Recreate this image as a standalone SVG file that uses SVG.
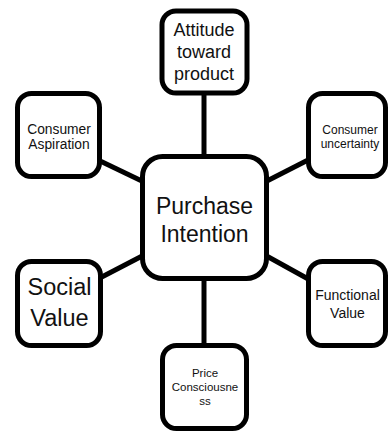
<svg xmlns="http://www.w3.org/2000/svg" width="388" height="432" viewBox="0 0 388 432">
<style>
.box{fill:#fff;stroke:#000;stroke-width:5}
.ln{stroke:#000;stroke-width:5;fill:none}
text{font-family:"Liberation Sans",Arial,sans-serif;fill:#111;text-anchor:middle}
</style>
<rect width="388" height="432" fill="#fff"/>
<g id="connectors">
<line class="ln" x1="204" y1="90" x2="204" y2="160"/>
<line class="ln" x1="204" y1="275" x2="204" y2="348"/>
<line class="ln" x1="96" y1="159" x2="146" y2="183"/>
<line class="ln" x1="310" y1="159" x2="263" y2="183"/>
<line class="ln" x1="146" y1="254" x2="96" y2="280"/>
<line class="ln" x1="263" y1="254" x2="310" y2="280"/>
</g>
<g id="attitude">
<rect class="box" x="162" y="11" width="85" height="82" rx="14"/>
<text x="204" y="36" font-size="18">Attitude</text>
<text x="204" y="58" font-size="18">toward</text>
<text x="204" y="80" font-size="18">product</text>
</g>
<g id="aspiration">
<rect class="box" x="17.5" y="93.5" width="82" height="83" rx="14"/>
<text x="59" y="133.5" font-size="13.8">Consumer</text>
<text x="59" y="148.5" font-size="13.8">Aspiration</text>
</g>
<g id="uncertainty">
<rect class="box" x="308.5" y="93.5" width="77" height="83" rx="14"/>
<text x="350" y="133.5" font-size="12">Consumer</text>
<text x="350" y="148" font-size="12">uncertainty</text>
</g>
<g id="purchase">
<rect class="box" x="142.5" y="156.5" width="124" height="122" rx="20"/>
<text x="204.5" y="213.5" font-size="23">Purchase</text>
<text x="204.5" y="242.3" font-size="23">Intention</text>
</g>
<g id="social">
<rect class="box" x="17.5" y="261.5" width="83" height="84" rx="14"/>
<text x="59.5" y="295" font-size="23.5">Social</text>
<text x="59.5" y="326" font-size="23.5">Value</text>
</g>
<g id="functional">
<rect class="box" x="308.5" y="261.5" width="77" height="84" rx="14"/>
<text x="347.5" y="300" font-size="14">Functional</text>
<text x="347.5" y="317.5" font-size="14">Value</text>
</g>
<g id="price">
<rect class="box" x="162.5" y="345.5" width="84" height="83" rx="14"/>
<text x="205" y="377.3" font-size="11.5">Price</text>
<text x="205" y="391.3" font-size="11.5">Consciousne</text>
<text x="205" y="404.7" font-size="11.5">ss</text>
</g>
</svg>
